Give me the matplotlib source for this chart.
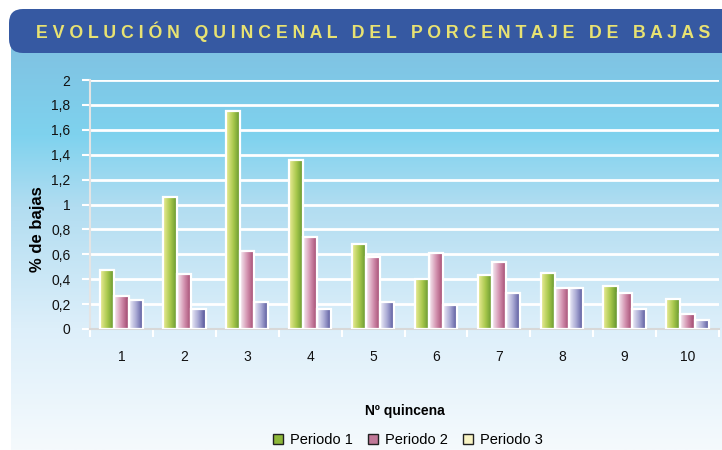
import numpy as np
import matplotlib
matplotlib.use("Agg")
import matplotlib.pyplot as plt
from matplotlib.colors import LinearSegmentedColormap
from matplotlib.patches import FancyBboxPatch, Patch

plt.rcParams['font.family'] = ['Liberation Sans', 'DejaVu Sans']

# data
quincenas = ['1', '2', '3', '4', '5', '6', '7', '8', '9', '10']
periodo_1 = [0.47, 1.06, 1.75, 1.36, 0.68, 0.40, 0.43, 0.45, 0.345, 0.24]
periodo_2 = [0.265, 0.44, 0.63, 0.74, 0.58, 0.61, 0.54, 0.33, 0.29, 0.12]
periodo_3 = [0.23, 0.16, 0.22, 0.16, 0.22, 0.19, 0.29, 0.33, 0.16, 0.07]
series_names = ['Periodo 1', 'Periodo 2', 'Periodo 3']
yticks = [0, 0.2, 0.4, 0.6, 0.8, 1, 1.2, 1.4, 1.6, 1.8, 2]
ytick_labels = ['0', '0,2', '0,4', '0,6', '0,8', '1', '1,2', '1,4', '1,6', '1,8', '2']

title = 'EVOLUCIÓN QUINCENAL DEL PORCENTAJE DE BAJAS'

# bar gradients, light on the left to dark on the right
bar_cmaps = [
    LinearSegmentedColormap.from_list('g', ['#ECEC98', '#A8C84C', '#5A8E2A']),
    LinearSegmentedColormap.from_list('p', ['#F8EEF4', '#D290AE', '#9C4068']),
    LinearSegmentedColormap.from_list('b', ['#F0F0FA', '#A6A6D2', '#4C4C94']),
]
legend_colors = ['#8DB83A', '#C07898', '#F8F4C4']

W, H = 722, 450
fig = plt.figure(figsize=(W / 100, H / 100), dpi=100)
fig.patch.set_facecolor('white')

# background gradient panel
bg = fig.add_axes([0, 0, 1, 1], zorder=-10)
bg.set_xlim(0, W)
bg.set_ylim(H, 0)
bg.axis('off')
bg_cmap = LinearSegmentedColormap.from_list(
    'bg', [(0, '#80C2E2'), (0.22, '#7ED2EE'), (0.4, '#B2DDF1'),
           (0.7, '#DDEFFA'), (1.0, '#F5FAFD')])
grad = np.linspace(0, 1, 256).reshape(-1, 1)
bg.imshow(grad, cmap=bg_cmap, aspect='auto', extent=(11, W, H, 45))

# title banner
banner = FancyBboxPatch((9, 9), W + 20, 44, boxstyle='round,pad=0,rounding_size=14',
                        facecolor='#3659A2', edgecolor='none')
bg.add_patch(banner)
bg.text(373, 32, '   '.join(' '.join(w) for w in title.split(' ')),
        color='#E8E272', fontsize=12.8, fontweight='bold', ha='center', va='center')

# main axes
ax = fig.add_axes([90 / W, 1 - 329 / H, (719 - 90) / W, (329 - 80) / H])
ax.patch.set_alpha(0)
x = np.arange(len(quincenas))
bw = 0.225

for i, vals in enumerate([periodo_1, periodo_2, periodo_3]):
    bars = ax.bar(x + (i - 1) * bw, vals, bw, facecolor='none',
                  edgecolor='white', linewidth=1.6, zorder=4)
    for b in bars:
        x0, w, h = b.get_x(), b.get_width(), b.get_height()
        ax.imshow(np.linspace(0, 1, 64).reshape(1, -1), cmap=bar_cmaps[i],
                  aspect='auto', extent=(x0, x0 + w, 0, h), zorder=3)
ax.set_xlim(-0.5, len(quincenas) - 0.5)
ax.set_ylim(0, 2)

ax.set_yticks(yticks)
ax.set_yticklabels(ytick_labels)
ax.yaxis.grid(True, color='white', linewidth=2)
ax.set_axisbelow(True)
ax.set_xticks(x)
ax.set_xticklabels(quincenas)
ax.set_xticks(np.arange(-0.5, len(quincenas)), minor=True)
ax.tick_params(axis='x', which='major', length=0, pad=15, labelsize=10, colors='#111111')
ax.tick_params(axis='x', which='minor', length=6, width=1.5, color='white')
ax.tick_params(axis='y', length=6, width=1.5, color='white', pad=8,
               labelsize=10, labelcolor='#111111')
for s in ['top', 'right']:
    ax.spines[s].set_visible(False)
ax.spines['left'].set_color('#E4E4E4')
ax.spines['bottom'].set_color('#D8D8D8')
ax.spines['left'].set_linewidth(1.5)
ax.spines['bottom'].set_linewidth(1.5)

ax.set_ylabel('% de bajas', fontsize=12, fontweight='bold')
ax.yaxis.set_label_coords(-0.072, 0.40)
ax.set_xlabel('Nº quincena', fontsize=10, fontweight='bold')
ax.xaxis.set_label_coords(0.5, -0.30)

handles = [Patch(facecolor=c, edgecolor='#222222', linewidth=1) for c in legend_colors]
fig.legend(handles, series_names, loc='center', bbox_to_anchor=(408 / W, 1 - 440 / H),
           ncol=3, frameon=False, fontsize=10.5, handlelength=0.7, handleheight=0.7,
           handletextpad=0.5, columnspacing=1.0)

fig.savefig('out.png', dpi=100)
